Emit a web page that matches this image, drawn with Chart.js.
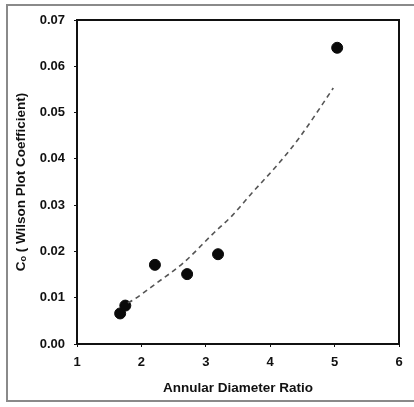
<!DOCTYPE html>
<html>
<head>
<meta charset="utf-8">
<script src="https://cdn.jsdelivr.net/npm/chart.js@4/dist/chart.umd.min.js"></script>
<style>
  html, body { margin: 0; padding: 0; background: #fff; }
  #wrap { position: relative; width: 414px; height: 407px; overflow: hidden; }
  #frame {
    position: absolute; left: 6px; top: 4px; width: 430px; height: 398px;
    border: 2px solid #8a8a8a; box-sizing: border-box; pointer-events: none;
  }
  canvas { position: absolute; left: 0; top: 0; }
</style>
</head>
<body>
<div id="wrap">
  <canvas id="chart" width="414" height="407"></canvas>
  <div id="frame"></div>
</div>
<script>
// measured points (annular diameter ratio vs Wilson plot coefficient)
const ratioX = [1.67, 1.75, 2.21, 2.71, 3.19, 5.04];
const coeffY = [0.0066, 0.0083, 0.0171, 0.0151, 0.0194, 0.0640];

// dashed trend curve
const fitX = [1.79, 1.87, 2.24, 2.65, 3.11, 3.42, 3.69, 4.15, 4.46, 4.98];
const fitY = [0.0089, 0.0095, 0.0132, 0.0175, 0.0238, 0.0279, 0.0322, 0.0393, 0.0447, 0.0553];

const xTitle = 'Annular Diameter Ratio';
const yTitle = 'C\u2092 ( Wilson Plot Coefficient)';

const FONT = "'Liberation Sans', Arial, sans-serif";

// draw the plot frame on all four sides
const frameBox = {
  id: 'frameBox',
  afterDraw(chart) {
    const { ctx, chartArea: a } = chart;
    ctx.save();
    ctx.strokeStyle = '#111';
    ctx.lineWidth = 2;
    ctx.strokeRect(a.left, a.top, a.right - a.left, a.bottom - a.top);
    ctx.restore();
  }
};

new Chart(document.getElementById('chart'), {
  type: 'scatter',
  data: {
    datasets: [
      {
        label: 'fit',
        data: fitX.map((x, i) => ({ x, y: fitY[i] })),
        showLine: true,
        borderColor: '#555',
        borderWidth: 1.6,
        borderDash: [5, 4],
        cubicInterpolationMode: 'monotone',
        pointRadius: 0,
        fill: false
      },
      {
        label: 'data',
        data: ratioX.map((x, i) => ({ x, y: coeffY[i] })),
        backgroundColor: '#0a0a0a',
        borderColor: '#0a0a0a',
        pointRadius: 5.5,
        showLine: false
      }
    ]
  },
  options: {
    responsive: false,
    animation: false,
    layout: { padding: { top: 20, right: 15, left: 0, bottom: 0 } },
    plugins: { legend: { display: false }, tooltip: { enabled: false } },
    scales: {
      x: {
        type: 'linear',
        min: 1, max: 6,
        afterFit: (s) => { s.height = 63; },
        ticks: {
          stepSize: 1,
          color: '#111',
          padding: 8,
          font: { family: FONT, size: 13, weight: 'bold' }
        },
        grid: { drawOnChartArea: false, tickLength: 3, color: '#111' },
        border: { color: '#111', width: 2 },
        title: {
          display: true,
          text: xTitle,
          color: '#111',
          padding: { top: 0, bottom: 11 },
          font: { family: FONT, size: 13.5, weight: 'bold' }
        }
      },
      y: {
        min: 0, max: 0.07,
        afterFit: (s) => { s.width = 77; },
        ticks: {
          stepSize: 0.01,
          color: '#111',
          padding: 9,
          font: { family: FONT, size: 13, weight: 'bold' },
          callback: (v) => v.toFixed(2)
        },
        grid: { drawOnChartArea: false, tickLength: 3, color: '#111' },
        border: { color: '#111', width: 2 },
        title: {
          display: true,
          text: yTitle,
          color: '#111',
          padding: { top: 13, bottom: 0 },
          font: { family: FONT, size: 13.5, weight: 'bold' }
        }
      }
    }
  },
  plugins: [frameBox]
});
</script>
</body>
</html>
